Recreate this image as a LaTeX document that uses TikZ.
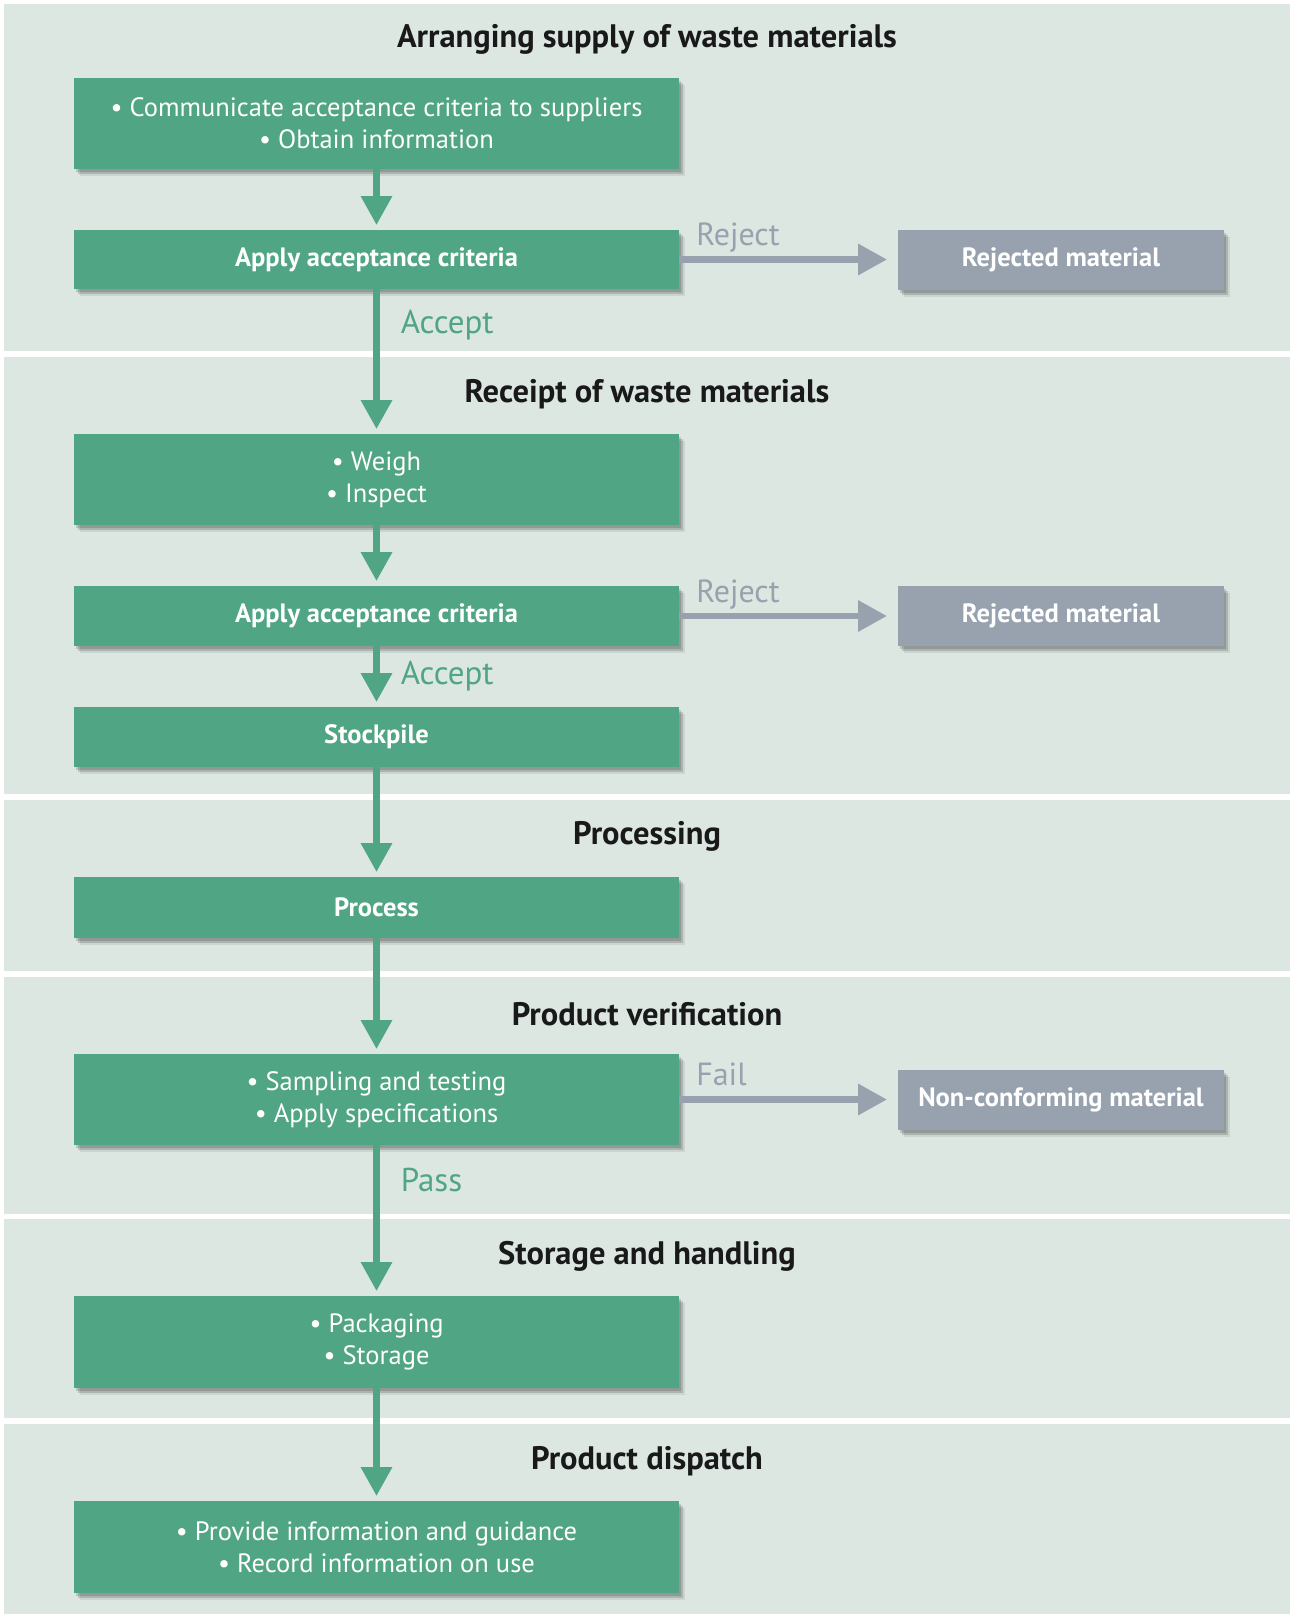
\documentclass[tikz,border=0pt]{standalone}
\usepackage{fontspec}
\setmainfont{PT Sans}
\usetikzlibrary{arrows.meta,positioning,shadows}

\definecolor{stagegreen}{RGB}{80,165,132}
\definecolor{rejgray}{RGB}{151,162,174}
\definecolor{panelbg}{RGB}{220,231,226}

\begin{document}
\begin{tikzpicture}[x=1pt,y=-1pt,
		stage shadow/.style={
			drop shadow={shadow xshift=2pt,shadow yshift=-3pt,opacity=.15,fill=black},
			drop shadow={shadow xshift=4pt,shadow yshift=-5pt,opacity=.15,fill=black},
			drop shadow={shadow xshift=6pt,shadow yshift=-7pt,opacity=.08,fill=black}},
		stage/.style={rectangle,fill=stagegreen,text=white,minimum width=605pt,inner sep=0pt,outer sep=0pt,align=center,font=\fontsize{26.5}{32}\selectfont,stage shadow},
		bstage/.style={stage,font=\fontsize{26.5}{32}\selectfont\bfseries},
		outcome/.style={rectangle,fill=rejgray,text=white,minimum width=326pt,minimum height=60pt,inner sep=0pt,outer sep=0pt,font=\fontsize{26.5}{32}\selectfont\bfseries,stage shadow},
		heading/.style={font=\fontsize{32.5}{38}\selectfont\bfseries,text=black!90},
		marrow/.style={-{Triangle[width=30pt,length=29pt]},line width=6.5pt,draw=stagegreen,shorten >=5pt},
		rarrow/.style={-{Triangle[width=30pt,length=29pt]},line width=6.5pt,draw=rejgray,shorten >=11pt},
		glabel/.style={text=stagegreen,font=\fontsize{33}{38}\selectfont,inner sep=0pt},
		rlabel/.style={text=rejgray,font=\fontsize{32}{38}\selectfont,inner sep=0pt}]
		\fill [white] (0,0) rectangle (1290,1614);
		\useasboundingbox (0,0) rectangle (1290,1614);

		% section panels
		\foreach \top/\bot in {4/351,357/794,800/971,977/1214,1219/1418,1424/1614}
			\fill [panelbg] (4,\top) rectangle (1290,\bot);

		\node [heading] (supply-title) at (647,39) {Arranging supply of waste materials};
		\node [heading] (receipt-title) at (647,394) {Receipt of waste materials};
		\node [heading] (processing-title) at (647,836) {Processing};
		\node [heading] (verification-title) at (647,1014) {Product verification};
		\node [heading] (storage-title) at (647,1256) {Storage and handling};
		\node [heading] (dispatch-title) at (647,1461) {Product dispatch};

		\node [stage,minimum height=91pt] (communicate) at (376.5,123.5) {
			\textbullet\ Communicate acceptance criteria to suppliers\\
			\textbullet\ Obtain information
		};
		\node [bstage,minimum height=59pt] (apply-supply) at (376.5,259.5) {Apply acceptance criteria};
		\node [outcome] (rejected-supply) [right=219pt of apply-supply] {Rejected material};

		\node [stage,minimum height=91pt] (weigh) at (376.5,479.5) {
			\textbullet\ Weigh\\
			\textbullet\ Inspect
		};
		\node [bstage,minimum height=60pt] (apply-receipt) at (376.5,616) {Apply acceptance criteria};
		\node [outcome] (rejected-receipt) [right=219pt of apply-receipt] {Rejected material};
		\node [bstage,minimum height=60pt] (stockpile) at (376.5,737) {Stockpile};

		\node [bstage,minimum height=61pt] (process) at (376.5,907.5) {Process};

		\node [stage,minimum height=91pt] (sampling) at (376.5,1099.5) {
			\textbullet\ Sampling and testing\\
			\textbullet\ Apply specifications
		};
		\node [outcome] (non-conforming) [right=219pt of sampling] {Non-conforming material};

		\node [stage,minimum height=92pt] (packaging) at (376.5,1342) {
			\textbullet\ Packaging\\
			\textbullet\ Storage
		};

		\node [stage,minimum height=92pt] (provide-info) at (376.5,1547) {
			\textbullet\ Provide information and guidance\\
			\textbullet\ Record information on use
		};

		% horizontal arrows
		\draw [rarrow] (apply-supply) to node [rlabel,pos=0,anchor=base west,xshift=14pt,yshift=14pt] {Reject} (rejected-supply);
		\draw [rarrow] (apply-receipt) to node [rlabel,pos=0,anchor=base west,xshift=14pt,yshift=14pt] {Reject} (rejected-receipt);
		\draw [rarrow] (sampling) to node [rlabel,pos=0,anchor=base west,xshift=14pt,yshift=14pt] {Fail} (non-conforming);

		% vertical arrows
		\draw [marrow] (communicate) to (apply-supply);
		\draw [marrow] (apply-supply) to node [glabel,pos=.25,anchor=west,xshift=21pt] {Accept} (weigh);
		\draw [marrow] (weigh) to (apply-receipt);
		\draw [marrow] (apply-receipt) to node [glabel,pos=.5,anchor=west,xshift=21pt] {Accept} (stockpile);
		\draw [marrow] (stockpile) to (process);
		\draw [marrow] (process) to (sampling);
		\draw [marrow] (sampling) to node [glabel,pos=.23,anchor=west,xshift=21pt] {Pass} (packaging);
		\draw [marrow] (packaging) to (provide-info);
	\end{tikzpicture}
\end{document}
